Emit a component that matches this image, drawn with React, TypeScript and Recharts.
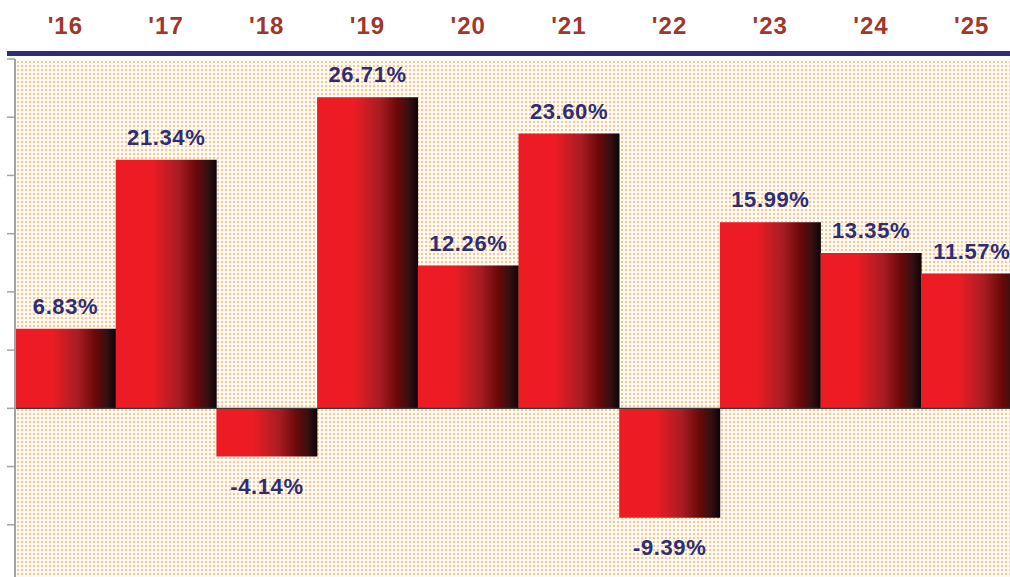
import React from "react";
import {
  BarChart,
  Bar,
  XAxis,
  YAxis,
  CartesianGrid,
  ReferenceLine,
  LabelList,
} from "recharts";

const YEARS = ["'16", "'17", "'18", "'19", "'20", "'21", "'22", "'23", "'24", "'25"];
const RETURNS = [6.83, 21.34, -4.14, 26.71, 12.26, 23.6, -9.39, 15.99, 13.35, 11.57];
const Y_TICKS = [-15, -10, -5, 0, 5, 10, 15, 20, 25, 30];

const data = YEARS.map((year, i) => ({ year, value: RETURNS[i] }));

const FONT = "'Liberation Sans', Arial, Helvetica, sans-serif";
const NAVY = "#2d2e74";
const BROWN = "#a0372a";

function YearTick(props: any) {
  const { x, y, payload } = props;
  return (
    <text
      x={x}
      y={y}
      textAnchor="middle"
      fontFamily={FONT}
      fontWeight="bold"
      fontSize={24}
      letterSpacing={1}
      fill={BROWN}
    >
      {payload.value}
    </text>
  );
}

function ValueLabel(props: any) {
  const { x, y, width, height, value } = props;
  const top = Math.min(y, y + height);
  const bottom = Math.max(y, y + height);
  const ty = value >= 0 ? top - 15 : bottom + 37;
  return (
    <text
      x={x + width / 2}
      y={ty}
      textAnchor="middle"
      fontFamily={FONT}
      fontWeight="bold"
      fontSize={22}
      letterSpacing={0.6}
      fill={NAVY}
    >
      {value.toFixed(2)}%
    </text>
  );
}

export default function App() {
  return (
    <div
      style={{
        position: "fixed",
        left: 0,
        top: 0,
        width: 1010,
        height: 577,
        overflow: "hidden",
        background: "#ffffff",
      }}
    >
      <BarChart
        width={1022}
        height={583}
        data={data}
        margin={{ top: 0, right: 0, bottom: 0, left: 0 }}
        barCategoryGap="0%"
        barGap={0}
      >
        <defs>
          <pattern id="dots" width="4" height="4" patternUnits="userSpaceOnUse">
            <rect width="4" height="4" fill="#fffaf4" />
            <rect x="1" y="1" width="2" height="2" fill="#f9c590" />
          </pattern>
          <linearGradient id="barGrad" x1="0" y1="0" x2="1" y2="0">
            <stop offset="0" stopColor="#ed1c24" />
            <stop offset="0.36" stopColor="#ed1c24" />
            <stop offset="0.62" stopColor="#a81d23" />
            <stop offset="0.8" stopColor="#690808" />
            <stop offset="0.9" stopColor="#3a1012" />
            <stop offset="1" stopColor="#0d0506" />
          </linearGradient>
        </defs>
        <CartesianGrid horizontal={false} vertical={false} fill="url(#dots)" />
        <XAxis
          dataKey="year"
          orientation="top"
          height={59}
          axisLine={false}
          tickLine={false}
          tickSize={0}
          tickMargin={25}
          tick={<YearTick />}
          interval={0}
        />
        <YAxis
          type="number"
          domain={[-15, 30]}
          ticks={Y_TICKS}
          width={15}
          axisLine={{ stroke: "#a3a3a3", strokeWidth: 2 }}
          tickLine={{ stroke: "#a3a3a3", strokeWidth: 1.5 }}
          tickSize={8}
          tick={() => <g />}
        />
        <Bar dataKey="value" fill="url(#barGrad)" isAnimationActive={false}>
          <LabelList dataKey="value" content={<ValueLabel />} />
        </Bar>
        <ReferenceLine y={0} stroke="#3a3a3a" strokeWidth={1.2} />
      </BarChart>
      <div
        style={{
          position: "absolute",
          left: 7,
          top: 51,
          width: 1003,
          height: 5,
          background: NAVY,
        }}
      />
    </div>
  );
}
